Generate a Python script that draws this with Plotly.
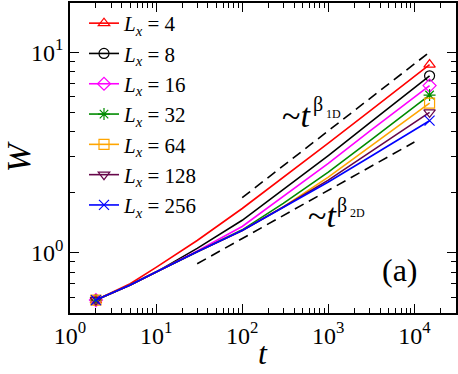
import plotly.graph_objects as go

# time steps and interface width for each strip width L_x
t = [2, 5, 10, 30, 100, 300, 1000, 3000, 10000, 15000]
W_4 = [0.58, 0.70, 0.844, 1.15, 1.66, 2.37, 3.52, 5.07, 7.57, 8.67]
W_8 = [0.58, 0.69, 0.80, 1.05, 1.45, 2.07, 3.05, 4.42, 6.64, 7.62]
W_16 = [0.58, 0.69, 0.80, 1.02, 1.35, 1.90, 2.79, 4.02, 5.97, 6.81]
W_32 = [0.58, 0.69, 0.80, 1.01, 1.30, 1.76, 2.52, 3.60, 5.36, 6.11]
W_64 = [0.58, 0.69, 0.80, 1.01, 1.29, 1.69, 2.38, 3.36, 4.91, 5.57]
W_128 = [0.58, 0.69, 0.80, 1.01, 1.29, 1.69, 2.30, 3.15, 4.47, 5.01]
W_256 = [0.58, 0.69, 0.80, 1.01, 1.29, 1.68, 2.25, 2.99, 4.09, 4.55]

sizes = [4, 8, 16, 32, 64, 128, 256]
widths = [W_4, W_8, W_16, W_32, W_64, W_128, W_256]

# guide lines ~t^beta
t_1d = [100, 15000]
W_1d = [1.88, 10.0]
t_2d = [30, 10000]
W_2d = [0.88, 3.56]

x_ticks = [1, 10, 100, 1000, 10000]
x_ticktext = ['10<sup>0</sup>', '10<sup>1</sup>', '10<sup>2</sup>', '10<sup>3</sup>', '10<sup>4</sup>']
y_ticks = [1, 10]
y_ticktext = ['10<sup>0</sup>', '10<sup>1</sup>']

COLORS = ['#ff0000', '#000000', '#ff00ff', '#008b00', '#ffa500', '#67074a', '#0000ff']
SYMBOLS = ['triangle-up-open', 'circle-open', 'diamond-open', 'asterisk-open',
           'square-open', 'triangle-down-open', 'x-thin-open']
FONT = '"Liberation Serif", "Times New Roman", Times, serif'

ML, MR, MT, MB = 70, 2, 3, 61
PW, PH = 458 - ML - MR, 374 - MT - MB


def px(x):
    return (x - ML) / PW


def py(y):
    return (374 - MB - y) / PH


fig = go.Figure()

for L, w, c, s in zip(sizes, widths, COLORS, SYMBOLS):
    # legend entry only
    fig.add_trace(go.Scatter(x=[None], y=[None], mode='lines+markers', name=f'<i>L</i><sub><i>x</i></sub> = {L}',
                             line=dict(color=c, width=1.6),
                             marker=dict(symbol=s, size=10, color=c, line=dict(color=c, width=1.2))))

for L, w, c, s in zip(sizes, widths, COLORS, SYMBOLS):
    fig.add_trace(go.Scatter(x=t, y=w, mode='lines', showlegend=False, line=dict(color=c, width=1.6)))
    fig.add_trace(go.Scatter(x=[t[0], t[-1]], y=[w[0], w[-1]], mode='markers', showlegend=False,
                             marker=dict(symbol=s, size=10, color=c, line=dict(color=c, width=1.2))))

fig.add_trace(go.Scatter(x=t_1d, y=W_1d, mode='lines', showlegend=False,
                         line=dict(color='black', width=1.6, dash='10px,6px')))
fig.add_trace(go.Scatter(x=t_2d, y=W_2d, mode='lines', showlegend=False,
                         line=dict(color='black', width=1.6, dash='10px,6px')))

ann = [
    ('~<i>t</i>', 280, 115, 34, 'left'),
    ('β', 311, 104, 20, 'left'),
    ('1D', 324, 114, 12, 'left'),
    ('~<i>t</i>', 306, 215, 34, 'left'),
    ('β', 335, 205, 20, 'left'),
    ('2D', 348, 213, 12, 'left'),
    ('(a)', 380, 270, 32, 'left'),
    ('<i>t</i>', 263, 353, 32, 'center'),  # x-axis title
]
for text, x, y, size, anchor in ann:
    fig.add_annotation(text=text, x=px(x), y=py(y), xref='paper', yref='paper', xanchor=anchor, yanchor='middle',
                       showarrow=False, font=dict(family=FONT, size=size, color='black'))

axis_common = dict(type='log', showgrid=False, zeroline=False, showline=True, linecolor='black', linewidth=1.5,
                   mirror='allticks', ticks='inside', ticklen=9, tickwidth=1.3, tickcolor='black',
                   tickmode='array', tickfont=dict(family=FONT, size=24, color='black'), automargin=False,
                   minor=dict(ticks='inside', ticklen=5, tickwidth=1.1, tickcolor='black', showgrid=False))

fig.update_layout(
    width=458, height=374,
    margin=dict(l=ML, r=MR, t=MT, b=MB, autoexpand=False),
    plot_bgcolor='white', paper_bgcolor='white',
    font=dict(family=FONT, color='black'),
    showlegend=True,
    legend=dict(x=px(84), y=1.0, xanchor='left', yanchor='top', bgcolor='rgba(0,0,0,0)',
                font=dict(family=FONT, size=21, color='black'), tracegroupgap=0, itemwidth=30),
    xaxis=dict(axis_common, range=[0, 4.483], tickvals=x_ticks, ticktext=x_ticktext,
               minor=dict(axis_common['minor'], tickvals=[m * 10 ** k for k in range(5) for m in range(2, 10)])),
    yaxis=dict(axis_common, range=[-0.301, 1.245], tickvals=y_ticks, ticktext=y_ticktext,
               minor=dict(axis_common['minor'], tickvals=[m * 10 ** k for k in range(-1, 2) for m in range(2, 10)]),
               title=dict(text='<i>W</i>', font=dict(family=FONT, size=34), standoff=7)),
)

# drop the page's default body margin so the figure sits at the window's corner
fig.write_html("out.html", config={'displayModeBar': False},
               post_script="document.body.style.margin='0';document.body.style.overflow='hidden';")
